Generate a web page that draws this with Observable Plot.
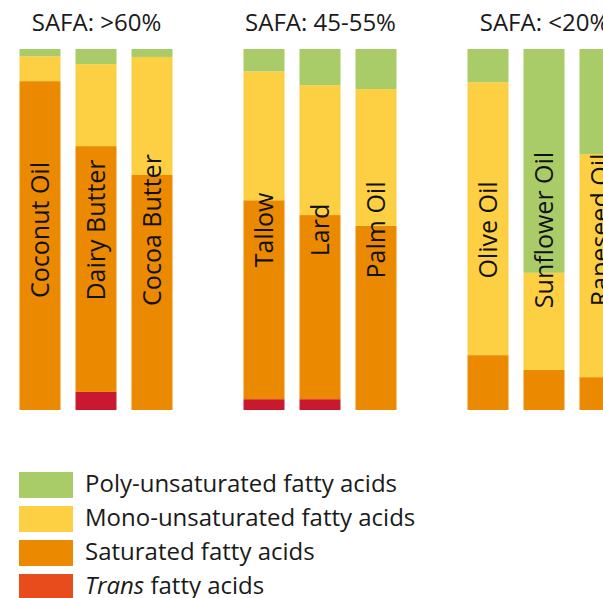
<!DOCTYPE html>
<html>
<head>
<meta charset="utf-8">
<script src="https://cdn.jsdelivr.net/npm/d3@7"></script>
<script src="https://cdn.jsdelivr.net/npm/@observablehq/plot@0.6"></script>
<style>
  html, body { margin: 0; padding: 0; background: #fff; overflow: hidden; }
  body { width: 603px; height: 598px; font-family: "Open Sans", sans-serif; color: #1a1a1a; }
  #chart svg { max-width: none !important; }
  #legend { padding-left: 19px; padding-top: 32px; }
  .row { display: flex; align-items: center; height: 26px; margin-bottom: 8px; }
  .sw { width: 54px; height: 26px; margin-right: 12px; flex: none; }
  .lab { font-size: 24px; line-height: 26px; white-space: nowrap; position: relative; top: -2px; }
</style>
</head>
<body>
<div id="chart"></div>
<div id="legend"></div>
<script>
const groups = [">60%", "45-55%", "<20%"];
const foods = ["Coconut Oil", "Dairy Butter", "Cocoa Butter", "Tallow", "Lard", "Palm Oil", "Olive Oil", "Sunflower Oil", "Rapeseed Oil"];
const foodGroup = [">60%", ">60%", ">60%", "45-55%", "45-55%", "45-55%", "<20%", "<20%", "<20%"];
const transFA = [0, 5, 0, 3, 3, 0, 0, 0, 0];
const saturatedFA = [91.1, 68.1, 65.1, 55.1, 51, 51, 15.2, 11.1, 9.1];
const monoFA = [6.9, 22.7, 32.7, 35.7, 36, 37.9, 75.6, 26.9, 61.8];
const polyFA = [2, 4.2, 2.2, 6.2, 10, 11.1, 9.2, 62, 29.1];
const types = ["Trans", "Saturated", "Mono", "Poly"];
const barColors = ["#c81930", "#eb8a00", "#fdd043", "#a9cc68"];
const legendLabels = ["Poly-unsaturated fatty acids", "Mono-unsaturated fatty acids", "Saturated fatty acids", "<i>Trans</i> fatty acids"];
const legendColors = ["#a9cc68", "#fdd043", "#eb8a00", "#e84c1c"];

const series = [transFA, saturatedFA, monoFA, polyFA];
const slotOf = i => i - foods.findIndex((_, j) => foodGroup[j] === foodGroup[i]);
const rows = [];
foods.forEach((f, i) => {
  types.forEach((t, k) => rows.push({food: f, group: foodGroup[i], slot: slotOf(i), type: t, value: series[k][i]}));
});
const labels = foods.map((f, i) => ({food: f, group: foodGroup[i], slot: slotOf(i)}));

const chart = Plot.plot({
  width: 628,
  height: 440,
  marginLeft: 11.5,
  marginRight: 0,
  marginTop: 49,
  marginBottom: 30,
  facet: {marginTop: 0, marginBottom: 0, marginLeft: 0, marginRight: 0},
  style: {fontFamily: "Open Sans, sans-serif", background: "#fff", maxWidth: "none"},
  fx: {domain: groups, paddingInner: 0.25, paddingOuter: 0, axis: null},
  x: {domain: [0, 1, 2], paddingInner: 0.268, paddingOuter: 0.134, axis: null},
  y: {domain: [0, 100], axis: null},
  color: {domain: types, range: barColors},
  marks: [
    Plot.barY(rows, Plot.stackY({order: types}, {fx: "group", x: "slot", y: "value", z: "type", fill: "type"})),
    Plot.text(labels, {fx: "group", x: "slot", text: "food", rotate: -90, frameAnchor: "middle", fontSize: 25, fill: "#111"}),
    Plot.text(groups, {fx: d => d, text: d => "SAFA: " + d, frameAnchor: "top", lineAnchor: "middle", dy: -26, fontSize: 24, fill: "#1a1a1a"})
  ]
});
document.getElementById("chart").appendChild(chart);

const legend = document.getElementById("legend");
legendLabels.forEach((l, i) => {
  const row = document.createElement("div");
  row.className = "row";
  row.innerHTML = `<div class="sw" style="background:${legendColors[i]}"></div><div class="lab">${l}</div>`;
  legend.appendChild(row);
});
</script>
</body>
</html>
